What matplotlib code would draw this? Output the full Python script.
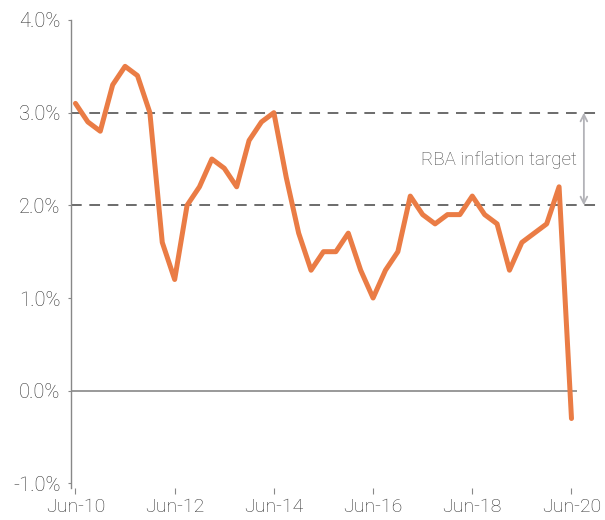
import matplotlib
matplotlib.use("Agg")
import matplotlib.pyplot as plt
from matplotlib.ticker import FuncFormatter

# Australian CPI, annual % change, quarterly from Jun-10 to Jun-20
quarters = list(range(41))
cpi = [3.1, 2.9, 2.8, 3.3, 3.5, 3.4, 3.0, 1.6, 1.2, 2.0,
       2.2, 2.5, 2.4, 2.2, 2.7, 2.9, 3.0, 2.3, 1.7, 1.3,
       1.5, 1.5, 1.7, 1.3, 1.0, 1.3, 1.5, 2.1, 1.9, 1.8,
       1.9, 1.9, 2.1, 1.9, 1.8, 1.3, 1.6, 1.7, 1.8, 2.2,
       -0.3]
tick_pos = [0, 8, 16, 24, 32, 40]
tick_labels = ["Jun-10", "Jun-12", "Jun-14", "Jun-16", "Jun-18", "Jun-20"]
y_ticks = [-1.0, 0.0, 1.0, 2.0, 3.0, 4.0]
target_band = [2.0, 3.0]

plt.rcParams["font.family"] = ["Roboto", "DejaVu Sans"]
plt.rcParams["font.weight"] = "light"
text_col = "#333333"

fig = plt.figure(figsize=(6.05, 5.2), dpi=100)
ax = fig.add_axes([71 / 605, 1 - 488 / 520, (600 - 71) / 605, (488 - 20) / 520])

ax.set_xlim(-0.36, 42.3)
ax.set_ylim(-1.05, 4.0)

# target band and zero line
for lvl in target_band:
    ax.axhline(lvl, color="#444444", lw=1.1, dashes=(7, 5), zorder=1)
ax.plot([-0.36, 40.4], [0, 0], color="#999999", lw=1.4, zorder=1)

ax.plot(quarters, cpi, color="#EA7C45", lw=3.6, solid_capstyle="round",
        solid_joinstyle="round", zorder=3)

ax.annotate("", xy=(41.0, target_band[1]), xytext=(41.0, target_band[0]),
            arrowprops=dict(arrowstyle="<->", color="#b3b3b8", lw=1.3,
                            shrinkA=0, shrinkB=0, mutation_scale=12))
ax.text(40.4, 2.43, "RBA inflation target", ha="right", va="baseline",
        fontsize=13.5, color="#4a4a4a")

for s in ["top", "right", "bottom"]:
    ax.spines[s].set_visible(False)
ax.spines["left"].set_color("#888888")
ax.spines["left"].set_linewidth(1.0)

ax.set_yticks(y_ticks)
ax.yaxis.set_major_formatter(FuncFormatter(lambda v, p: f"{v:.1f}%"))
ax.set_xticks(tick_pos)
ax.set_xticklabels(tick_labels)
ax.tick_params(axis="y", length=2.5, width=0.8, color="#888888",
               labelsize=14.5, labelcolor=text_col, pad=5)
ax.tick_params(axis="x", length=4, width=0.8, color="#888888",
               labelsize=14, labelcolor=text_col, pad=3)

fig.savefig("out.png", dpi=100)
